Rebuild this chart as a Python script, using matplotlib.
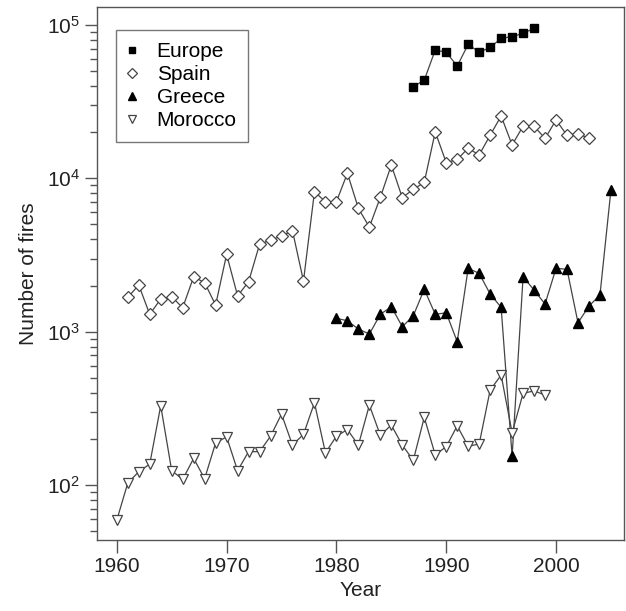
import numpy as np
import matplotlib.pyplot as plt
from matplotlib.ticker import LogLocator, NullFormatter

plt.rcParams['font.family'] = ['Liberation Sans', 'DejaVu Sans']

# data
europe_years = list(range(1987, 1999))
europe = [39600, 43700, 68700, 66400, 54000, 74800, 66400, 71400, 81900, 83900, 88300, 95000]

spain_years = list(range(1961, 2004))
spain = [1675, 2013, 1297, 1633, 1690, 1432, 2280, 2084, 1492, 3190,
         1713, 2115, 3710, 3955, 4200, 4550, 2138, 8180, 7040, 7040,
         10800, 6370, 4810, 7520, 12200, 7480, 8480, 9410, 20100, 12650,
         13300, 15700, 14200, 19100, 25500, 16500, 21900, 21900, 18200, 24000,
         19100, 19600, 18200]

greece_years = list(range(1980, 2006))
greece = [1222, 1178, 1040, 965, 1297, 1455, 1077, 1270, 1890, 1297,
          1328, 860, 2590, 2400, 1760, 1442, 154, 2280, 1866, 1514,
          2590, 2550, 1143, 1469, 1735, 8400]

morocco_years = list(range(1960, 2000))
morocco = [59, 103, 122, 137, 329, 124, 109, 149, 110, 188,
           206, 124, 165, 165, 208, 290, 182, 214, 344, 162,
           208, 230, 182, 332, 211, 246, 182, 145, 276, 157,
           178, 243, 179, 185, 416, 521, 219, 396, 411, 386]

fig = plt.figure(figsize=(6.26, 6.11), dpi=100)
ax = fig.add_axes([0.155, 0.116, 0.842, 0.8725])

lc = '#444444'
ax.plot(europe_years, europe, color=lc, lw=0.9, marker='s', ms=6,
        mfc='black', mec='black', label='Europe')
ax.plot(spain_years, spain, color=lc, lw=0.9, marker='D', ms=5.8,
        mfc='white', mec='#444444', mew=0.9, label='Spain')
ax.plot(greece_years, greece, color=lc, lw=0.9, marker='^', ms=7.5,
        mfc='black', mec='black', label='Greece')
ax.plot(morocco_years, morocco, color=lc, lw=0.9, marker='v', ms=7.5,
        mfc='white', mec='#444444', mew=0.9, label='Morocco')

ax.set_yscale('log')
ax.set_ylim(43.7, 131000)
ax.set_xlim(1958.2, 2006.2)
ax.set_xticks([1960, 1970, 1980, 1990, 2000])
ax.set_yticks([1e2, 1e3, 1e4, 1e5])
ax.yaxis.set_minor_locator(LogLocator(base=10, subs=np.arange(2, 10)))
ax.yaxis.set_minor_formatter(NullFormatter())

for s in ax.spines.values():
    s.set_color('#555555')
    s.set_linewidth(1.0)
ax.tick_params(axis='both', which='major', direction='out', length=9,
               width=1.0, color='#555555', labelsize=15, labelcolor='#222222')
ax.tick_params(axis='y', which='minor', direction='out', length=5,
               width=1.0, color='#555555')

ax.set_xlabel('Year', fontsize=15, color='#222222', labelpad=3)
ax.set_ylabel('Number of fires', fontsize=15, color='#222222', labelpad=6)

leg = ax.legend(loc='upper left', bbox_to_anchor=(0.036, 0.956), fontsize=15,
                handlelength=0.4, handletextpad=1.0, labelspacing=0.2,
                borderpad=0.55, borderaxespad=0, fancybox=False, frameon=True,
                markerscale=0.8)
for h in leg.legend_handles:
    h.set_linestyle('none')
leg.get_frame().set_edgecolor('#555555')
leg.get_frame().set_linewidth(1.0)

fig.savefig('out.png', dpi=100)
